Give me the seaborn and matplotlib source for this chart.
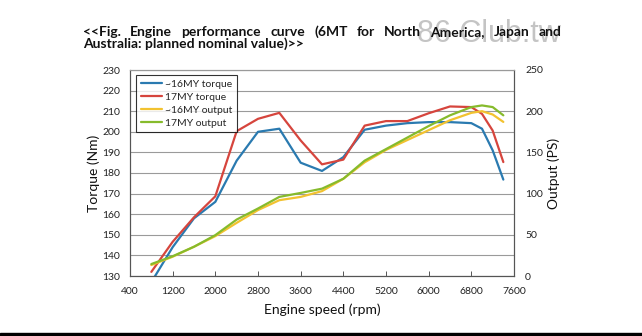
import matplotlib
matplotlib.use("Agg")
import matplotlib.pyplot as plt
from matplotlib.patches import Rectangle
from matplotlib.lines import Line2D
import seaborn as sns
import pandas as pd

rpm = [800, 1200, 1600, 2000, 2400, 2800, 3200, 3600, 4000, 4400, 4800,
       5200, 5600, 6000, 6400, 6800, 7000, 7200, 7400]
torque_16 = [127, 144, 158, 166, 186, 200, 201.5, 185, 181, 187.7, 201,
             203, 204.2, 204.7, 204.7, 204.2, 201.5, 191, 176.8]
torque_17 = [132, 146.6, 158.5, 168.7, 200.3, 206.3, 209.2, 195.8, 184.2, 186.5, 203,
             205.2, 205.2, 209, 212.3, 212, 208.7, 200.6, 185.3]
output_16 = [13.3, 23.4, 35.5, 48.4, 64.5, 80, 92, 96, 103, 118, 138,
             153, 165, 177, 189, 198, 200, 196, 187]
output_17 = [14.5, 24, 35.5, 49.6, 68.5, 81.9, 96, 100.8, 106, 118, 140,
             154, 168, 182, 195, 205, 207, 205, 195]
labels = ["~16MY torque", "17MY torque", "~16MY output", "17MY output"]
colors = {"~16MY torque": "#2a7ab0", "17MY torque": "#d6453d",
          "~16MY output": "#f2c230", "17MY output": "#86bb2c"}
xticks = [400, 1200, 2000, 2800, 3600, 4400, 5200, 6000, 6800, 7600]
yticks_left = [130, 140, 150, 160, 170, 180, 190, 200, 210, 220, 230]
yticks_right = [0, 50, 100, 150, 200, 250]

sns.set_theme(style="white")
plt.rcParams["font.family"] = ["Lato", "DejaVu Sans"]

tq = pd.DataFrame({"rpm": rpm * 2, "value": torque_16 + torque_17,
                   "series": [labels[0]] * len(rpm) + [labels[1]] * len(rpm)})
op = pd.DataFrame({"rpm": rpm * 2, "value": output_16 + output_17,
                   "series": [labels[2]] * len(rpm) + [labels[3]] * len(rpm)})

W, H = 642, 336
fig = plt.figure(figsize=(W / 100, H / 100), dpi=100)
ax = fig.add_axes([130 / W, 1 - 276 / H, 384 / W, 206 / H])
ax2 = ax.twinx()

sns.lineplot(data=tq, x="rpm", y="value", hue="series", palette=colors, ax=ax,
             linewidth=1.6, legend=False)
sns.lineplot(data=op, x="rpm", y="value", hue="series", palette=colors, ax=ax2,
             linewidth=1.6, legend=False)

ax.set_xlim(400, 7600)
ax.set_ylim(130, 230)
ax2.set_ylim(0, 250)
ax.set_xticks(xticks)
ax.set_yticks(yticks_left)
ax2.set_yticks(yticks_right)
ax.set_xticklabels([str(v) for v in xticks])
ax.yaxis.grid(True, color="#9a9a9a", linewidth=0.8)
ax2.grid(False)
ax.set_axisbelow(True)

tick_color = "#222222"
ax.tick_params(axis="x", direction="in", length=3.5, width=0.7, color="#555555",
               pad=8, labelsize=7.5, labelcolor=tick_color, bottom=True)
ax.tick_params(axis="y", length=0, pad=7, labelsize=7.5, labelcolor=tick_color)
ax2.tick_params(axis="y", length=0, pad=8, labelsize=7.5, labelcolor=tick_color)

for a in (ax, ax2):
    for s in ("left", "bottom", "right"):
        a.spines[s].set_color("#555555")
        a.spines[s].set_linewidth(0.8)
    a.spines["top"].set_color("#9a9a9a")
    a.spines["top"].set_linewidth(0.8)

ax.set_xlabel("Engine speed (rpm)", fontsize=10, labelpad=5, color="#111111")
ax.set_ylabel("Torque (Nm)", fontsize=10, labelpad=2, color="#111111")
ax2.set_ylabel("Output (PS)", fontsize=10, labelpad=3, color="#111111")

handles = [Line2D([0], [0], color=colors[l], linewidth=1.6) for l in labels]
leg = ax2.legend(handles, labels, loc="upper left",
                 bbox_to_anchor=(6 / 384, 1 - 5 / 206), fontsize=7.5,
                 frameon=True, fancybox=False, edgecolor="black",
                 borderpad=0.45, labelspacing=0.35, handlelength=2.0,
                 handletextpad=0.3, borderaxespad=0)
leg.get_frame().set_linewidth(0.8)

# watermark
fig.text(417 / W, 1 - 42 / H, "86 Club.tw", fontsize=22, color="#c4c4c4",
         family=["Liberation Sans", "DejaVu Sans"], va="baseline", zorder=0)

# title (line 1 justified)
words = "<<Fig. Engine performance curve (6MT for North America, Japan and".split()
tkw = dict(fontsize=10, fontweight="bold", color="#111111", va="baseline", zorder=3)
texts = [fig.text(0, 1 - 36 / H, w, **tkw) for w in words]
fig.text(83 / W, 1 - 47.5 / H, "Australia: planned nominal value)>>", **tkw)
fig.canvas.draw()
r = fig.canvas.get_renderer()
widths = [t.get_window_extent(r).width for t in texts]
gap = (562 - 83 - sum(widths)) / (len(words) - 1)
x = 83
for t, w in zip(texts, widths):
    t.set_x(x / W)
    x += w + gap

fig.patches.append(Rectangle((0, 0), 1, 3 / H, transform=fig.transFigure,
                             color="black", zorder=5))

fig.savefig("out.png", dpi=100)
